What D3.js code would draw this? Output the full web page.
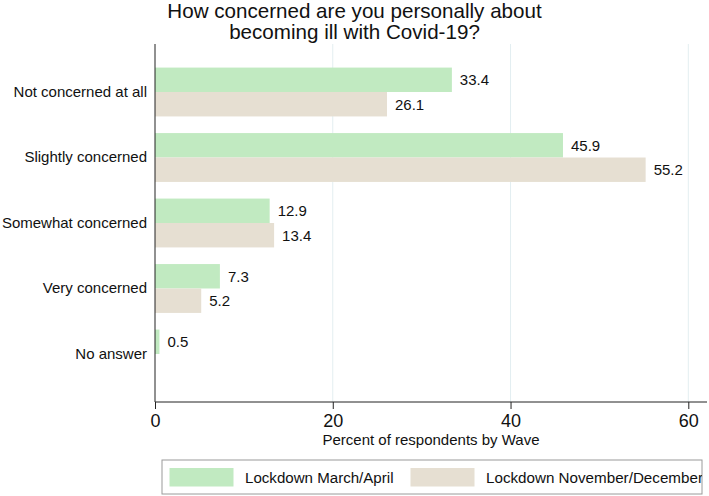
<!DOCTYPE html>
<html>
<head>
<meta charset="utf-8">
<script src="https://cdn.jsdelivr.net/npm/d3@7"></script>
<style>
  html, body { margin: 0; padding: 0; background: #fff; }
  svg { display: block; font-family: "Liberation Sans", Arial, Helvetica, sans-serif; }
</style>
</head>
<body>
<svg id="chart" width="709" height="496"></svg>
<script>
const categories = ["Not concerned at all", "Slightly concerned", "Somewhat concerned", "Very concerned", "No answer"];
const seriesNames = ["Lockdown March/April", "Lockdown November/December"];
const marchApril = [33.4, 45.9, 12.9, 7.3, 0.5];
const novDec = [26.1, 55.2, 13.4, 5.2, null];
const xTicks = [0, 20, 40, 60];
const titleLines = ["How concerned are you personally about", "becoming ill with Covid-19?"];
const xTitle = "Percent of respondents by Wave";
const colors = ["#c1eac1", "#e6dfd2"];

const svg = d3.select("#chart");
const W = 709, H = 496;
const plot = { left: 155, right: 707, top: 44, bottom: 402 };

const x = d3.scaleLinear().domain([0, 60]).range([plot.left, 688.3]);
const y = d3.scaleBand().domain(categories).range([plot.top, plot.bottom])
  .paddingInner(0.254).paddingOuter(0.36);
const sub = d3.scaleBand().domain([0, 1]).range([0, y.bandwidth()]);

// Title (two separate lines)
svg.append("g").selectAll("text").data(titleLines).join("text")
  .attr("x", W / 2).attr("y", (d, i) => 18 + i * 21)
  .attr("text-anchor", "middle")
  .attr("font-size", 20.6).attr("fill", "#111").text(d => d);

// Gridlines
svg.append("g").selectAll("line").data(xTicks.filter(t => t > 0)).join("line")
  .attr("x1", d => x(d)).attr("x2", d => x(d))
  .attr("y1", plot.top).attr("y2", plot.bottom)
  .attr("stroke", "#e3eef1").attr("stroke-width", 1);

// Bars
const series = [marchApril, novDec];
const groups = svg.append("g");
series.forEach((vals, si) => {
  const data = categories.map((c, i) => ({ c, v: vals[i] })).filter(d => d.v != null);
  groups.append("g").selectAll("rect").data(data).join("rect")
    .attr("x", x(0))
    .attr("y", d => y(d.c) + sub(si))
    .attr("width", d => x(d.v) - x(0))
    .attr("height", sub.bandwidth())
    .attr("fill", colors[si]);
  groups.append("g").selectAll("text").data(data).join("text")
    .attr("x", d => x(d.v) + 8)
    .attr("y", d => y(d.c) + sub(si) + sub.bandwidth() / 2)
    .attr("dy", "0.36em")
    .attr("font-size", 15).attr("fill", "#111")
    .text(d => d.v.toFixed(1));
});

// Y axis
const yAxis = svg.append("g").attr("transform", `translate(${plot.left},0)`)
  .call(d3.axisLeft(y).tickSize(0).tickPadding(8));
yAxis.select(".domain").attr("stroke", "#222").attr("d", `M0,${plot.top}V${plot.bottom}`);
yAxis.selectAll("text").attr("font-size", 15).attr("fill", "#111")
  .attr("font-family", "Liberation Sans, Arial, sans-serif");

// X axis
const xAxis = svg.append("g").attr("transform", `translate(0,${plot.bottom})`)
  .call(d3.axisBottom(x).tickValues(xTicks).tickSize(7).tickPadding(5).tickFormat(d3.format("d")));
xAxis.select(".domain").attr("stroke", "#222").attr("d", `M${plot.left},0H${plot.right}`);
xAxis.selectAll(".tick line").attr("stroke", "#222");
xAxis.selectAll("text").attr("font-size", 18).attr("fill", "#111")
  .attr("font-family", "Liberation Sans, Arial, sans-serif");

// X title
svg.append("text").attr("x", (plot.left + plot.right) / 2).attr("y", 445)
  .attr("text-anchor", "middle").attr("font-size", 15).attr("fill", "#111").text(xTitle);

// Legend
const lg = { x: 162, y: 460, w: 540, h: 34 };
svg.append("clipPath").attr("id", "lgclip").append("rect")
  .attr("x", lg.x).attr("y", lg.y).attr("width", lg.w).attr("height", lg.h);
const legend = svg.append("g");
legend.append("rect").attr("x", lg.x).attr("y", lg.y).attr("width", lg.w).attr("height", lg.h)
  .attr("fill", "#fff").attr("stroke", "#9a9a9a").attr("stroke-width", 1);
const lgItems = [{ sx: 169.5, tx: 245, fs: 15.1 }, { sx: 410.5, tx: 486, fs: 15.2 }];
const lgInner = legend.append("g").attr("clip-path", "url(#lgclip)");
seriesNames.forEach((name, i) => {
  lgInner.append("rect").attr("x", lgItems[i].sx).attr("y", 468).attr("width", 64).attr("height", 18.5)
    .attr("fill", colors[i]);
  lgInner.append("text").attr("x", lgItems[i].tx).attr("y", 477.5).attr("dy", "0.36em")
    .attr("font-size", lgItems[i].fs).attr("fill", "#111").text(name);
});
</script>
</body>
</html>
